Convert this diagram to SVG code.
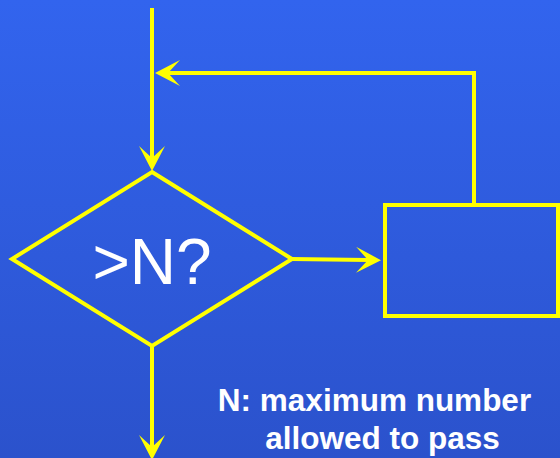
<svg xmlns="http://www.w3.org/2000/svg" width="560" height="458" viewBox="0 0 560 458">
<defs>
<linearGradient id="bg" x1="0" y1="0" x2="0" y2="1">
<stop offset="0" stop-color="#3264ee"/>
<stop offset="1" stop-color="#2b52cc"/>
</linearGradient>
<marker id="ah" viewBox="0 0 25 26" refX="12" refY="13" markerWidth="25" markerHeight="26" markerUnits="userSpaceOnUse" orient="auto">
<path d="M0,0 L25,13 L0,26 L12,13 Z" fill="#ffff00"/>
</marker>
<style>
.ln{fill:none;stroke:#ffff00;stroke-width:4}
.sh{fill:none;stroke:#ffff00;stroke-width:4;stroke-linejoin:miter}
.big{font-family:"Liberation Sans",Arial,sans-serif;font-size:64px;fill:#ffffff}
.note{font-family:"Liberation Sans",Arial,sans-serif;font-size:31.5px;font-weight:bold;fill:#ffffff}
</style>
</defs>
<rect x="0" y="0" width="560" height="458" fill="url(#bg)"/>
<g id="connectors">
<path class="ln" d="M152,8 L152,158" marker-end="url(#ah)"/>
<path class="ln" d="M474,205 L474,73 L168,73" marker-end="url(#ah)"/>
<path class="ln" d="M291,259 L368,260" marker-end="url(#ah)"/>
<path class="ln" d="M152,346 L152,447" marker-end="url(#ah)"/>
</g>
<g id="decision">
<polygon class="sh" points="152,172 292,259 152,346 12,259"/>
<text class="big" x="152" y="284" text-anchor="middle">&gt;N?</text>
</g>
<g id="process">
<rect class="sh" x="385" y="205" width="173" height="111"/>
</g>
<g id="note">
<text class="note" x="374.5" y="411" text-anchor="middle">N: maximum number</text>
<text class="note" x="382.5" y="449" text-anchor="middle">allowed to pass</text>
</g>
</svg>
